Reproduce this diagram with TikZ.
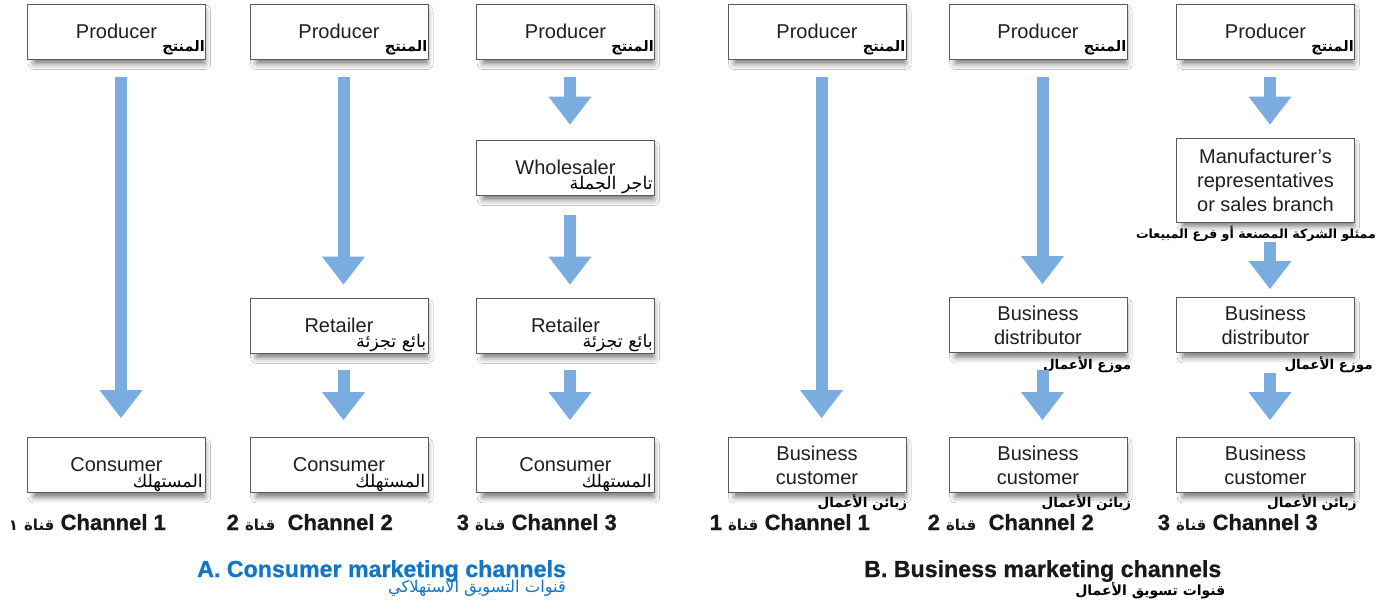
\documentclass[tikz,border=0pt]{standalone}
\usepackage{fontspec}
\setmainfont{Liberation Sans}
\newfontfamily\heavyfont[BoldFeatures={FakeBold=0.9}]{Liberation Sans}
\newfontfamily\arab[Script=Arabic]{DejaVu Sans}
\TeXXeTstate=1
\usetikzlibrary{arrows.meta,shadows.blur}
\definecolor{arrowblue}{RGB}{122,172,224}
\definecolor{titleblue}{RGB}{18,118,196}
\definecolor{boxline}{RGB}{90,90,90}
\tikzset{
  chbox/.style={draw=boxline, line width=0.9pt, fill=white, minimum width=178pt,
    minimum height=55pt, inner sep=0pt, align=center,
    font=\fontsize{20}{24}\selectfont, text=black!88,
    blur shadow={shadow xshift=3pt, shadow yshift=-6pt, shadow scale=0.96,
      shadow blur radius=6pt, shadow opacity=55}},
  artag/.style={inner sep=0pt, font=\arab\fontsize{17.5}{20}\selectfont, text=black},
  artagb/.style={inner sep=0pt, font=\arab\bfseries\fontsize{14.5}{17}\selectfont, text=black},
  fatarrow/.style={draw=arrowblue, line width=12pt,
    -{Triangle[width=43pt,length=28pt,line width=0pt]},
    shorten <=18pt, shorten >=16pt},
  chlabel/.style={inner sep=0pt, anchor=base east, font=\heavyfont\bfseries\fontsize{22}{24}\selectfont, text=black!90},
  chtitle/.style={inner sep=0pt, anchor=base west, font=\heavyfont\bfseries\fontsize{23.2}{26}\selectfont},
}
\newcommand{\qanat}{{\arab\bfseries\fontsize{15}{17}\selectfont قناة}}
\begin{document}
\begin{tikzpicture}[x=1pt,y=-1pt]
\fill[white] (0,0) rectangle (1390,607);
\useasboundingbox (0,0) rectangle (1390,607);

% ---- A. consumer channels ----
\node[chbox] (pA1) at (116.5,31.5) {Producer};
\node[chbox] (pA2) at (339,31.5) {Producer};
\node[chbox] (pA3) at (565.5,31.5) {Producer};
\node[chbox] (wA3) at (565.5,167.5) {Wholesaler};
\node[chbox] (rA2) at (339,325.5) {Retailer};
\node[chbox] (rA3) at (565.5,325.5) {Retailer};
\node[chbox] (cA1) at (116.5,465) {Consumer};
\node[chbox] (cA2) at (339,465) {Consumer};
\node[chbox] (cA3) at (565.5,465) {Consumer};

\node[artagb, anchor=south east] (pA1ar) at ([shift={(-1,-4)}]pA1.south east) {المنتج};
\node[artagb, anchor=south east] (pA2ar) at ([shift={(-1,-4)}]pA2.south east) {المنتج};
\node[artagb, anchor=south east] (pA3ar) at ([shift={(-1,-4)}]pA3.south east) {المنتج};
\node[artag, anchor=south east] (wA3ar) at ([shift={(-2,-1)}]wA3.south east) {\beginR تاجر الجملة\endR};
\node[artag, anchor=south east] (rA2ar) at ([shift={(-2,-1)}]rA2.south east) {\beginR بائع تجزئة\endR};
\node[artag, anchor=south east] (rA3ar) at ([shift={(-2,-1)}]rA3.south east) {\beginR بائع تجزئة\endR};
\node[artag, anchor=south east] (cA1ar) at ([shift={(-3,-1)}]cA1.south east) {المستهلك};
\node[artag, anchor=south east] (cA2ar) at ([shift={(-3,-1)}]cA2.south east) {المستهلك};
\node[artag, anchor=south east] (cA3ar) at ([shift={(-3,-1)}]cA3.south east) {المستهلك};

\draw[fatarrow, shorten >=19pt] ([xshift=4.5pt]pA1.south) -- ([xshift=4.5pt]cA1.north);
\draw[fatarrow, shorten >=13pt] ([xshift=4.5pt]pA2.south) -- ([xshift=4.5pt]rA2.north);
\draw[fatarrow, shorten <=17pt, shorten >=17pt] ([xshift=4.5pt]rA2.south) -- ([xshift=4.5pt]cA2.north);
\draw[fatarrow, shorten >=15pt] ([xshift=4.5pt]pA3.south) -- ([xshift=4.5pt]wA3.north);
\draw[fatarrow, shorten <=20pt, shorten >=13pt] ([xshift=4.5pt]wA3.south) -- ([xshift=4.5pt]rA3.north);
\draw[fatarrow, shorten <=17pt, shorten >=17pt] ([xshift=4.5pt]rA3.south) -- ([xshift=4.5pt]cA3.north);

\node[chlabel] (chA1) at (166,530) {{\arab\bfseries\fontsize{15}{17}\selectfont ١}\ \qanat\ Channel 1};
\node[chlabel] (chA2) at (393,530) {2\ \qanat\ \ Channel 2};
\node[chlabel] (chA3) at (617,530) {3\ \qanat\ Channel 3};

\node[chtitle, text=titleblue] (tA) at (197,577) {A. Consumer marketing channels};
\node[inner sep=0pt, anchor=north east, text=titleblue, font=\arab\fontsize{16.3}{18}\selectfont] (tAar)
  at ([shift={(0,3)}]tA.base east) {\beginR قنوات التسويق الاستهلاكي\endR};

% ---- B. business channels ----
\node[chbox] (pB1) at (817,31.5) {Producer};
\node[chbox] (pB2) at (1038,31.5) {Producer};
\node[chbox] (pB3) at (1265.5,31.5) {Producer};
\node[chbox, minimum height=84pt] (mB3) at (1265.5,180) {Manufacturer’s\\representatives\\or sales branch};
\node[chbox] (dB2) at (1038,325) {Business\\distributor};
\node[chbox] (dB3) at (1265.5,325) {Business\\distributor};
\node[chbox] (uB1) at (817,465) {Business\\customer};
\node[chbox] (uB2) at (1038,465) {Business\\customer};
\node[chbox] (uB3) at (1265.5,465) {Business\\customer};

\node[artagb, anchor=south east] (pB1ar) at ([shift={(-1,-4)}]pB1.south east) {المنتج};
\node[artagb, anchor=south east] (pB2ar) at ([shift={(-1,-4)}]pB2.south east) {المنتج};
\node[artagb, anchor=south east] (pB3ar) at ([shift={(-1,-4)}]pB3.south east) {المنتج};
\node[artagb, anchor=north, font=\arab\bfseries\fontsize{12.6}{15}\selectfont] (mB3ar)
  at ([shift={(-9.5,3)}]mB3.south) {\beginR ممثلو الشركة المصنعة أو فرع المبيعات\endR};
\node[artagb, anchor=north east, font=\arab\bfseries\fontsize{13.5}{16}\selectfont] (dB2ar) at ([shift={(4,4)}]dB2.south east) {\beginR موزع الأعمال\endR};
\node[artagb, anchor=north east, font=\arab\bfseries\fontsize{13.5}{16}\selectfont] (dB3ar) at ([shift={(18,4)}]dB3.south east) {\beginR موزع الأعمال\endR};
\node[artagb, anchor=north east, font=\arab\bfseries\fontsize{13.5}{16}\selectfont] (uB1ar) at ([shift={(1,2)}]uB1.south east) {\beginR زبائن الأعمال\endR};
\node[artagb, anchor=north east, font=\arab\bfseries\fontsize{13.5}{16}\selectfont] (uB2ar) at ([shift={(4,2)}]uB2.south east) {\beginR زبائن الأعمال\endR};
\node[artagb, anchor=north east, font=\arab\bfseries\fontsize{13.5}{16}\selectfont] (uB3ar) at ([shift={(2,2)}]uB3.south east) {\beginR زبائن الأعمال\endR};

\draw[fatarrow, shorten >=19pt] ([xshift=4.5pt]pB1.south) -- ([xshift=4.5pt]uB1.north);
\draw[fatarrow, shorten >=13pt] ([xshift=4.5pt]pB2.south) -- ([xshift=4.5pt]dB2.north);
\draw[fatarrow, shorten <=17pt, shorten >=17pt] ([xshift=4.5pt]dB2.south) -- ([xshift=4.5pt]uB2.north);
\draw[fatarrow, shorten >=13pt] ([xshift=4.5pt]pB3.south) -- ([xshift=4.5pt]mB3.north);
\draw[fatarrow, shorten <=20pt, shorten >=8pt] ([xshift=4.5pt]mB3.south) -- ([xshift=4.5pt]dB3.north);
\draw[fatarrow, shorten <=20pt, shorten >=17pt] ([xshift=4.5pt]dB3.south) -- ([xshift=4.5pt]uB3.north);

\node[chlabel] (chB1) at (870,530) {1\ \qanat\ Channel 1};
\node[chlabel] (chB2) at (1094,530) {2\ \qanat\ \ Channel 2};
\node[chlabel] (chB3) at (1318,530) {3\ \qanat\ Channel 3};

\node[chtitle, text=black!90] (tB) at (864,577) {B. Business marketing channels};
\node[inner sep=0pt, anchor=north east, text=black, font=\arab\bfseries\fontsize{14}{16}\selectfont] (tBar)
  at ([shift={(4,5)}]tB.base east) {\beginR قنوات تسويق الأعمال\endR};
\end{tikzpicture}
\end{document}
